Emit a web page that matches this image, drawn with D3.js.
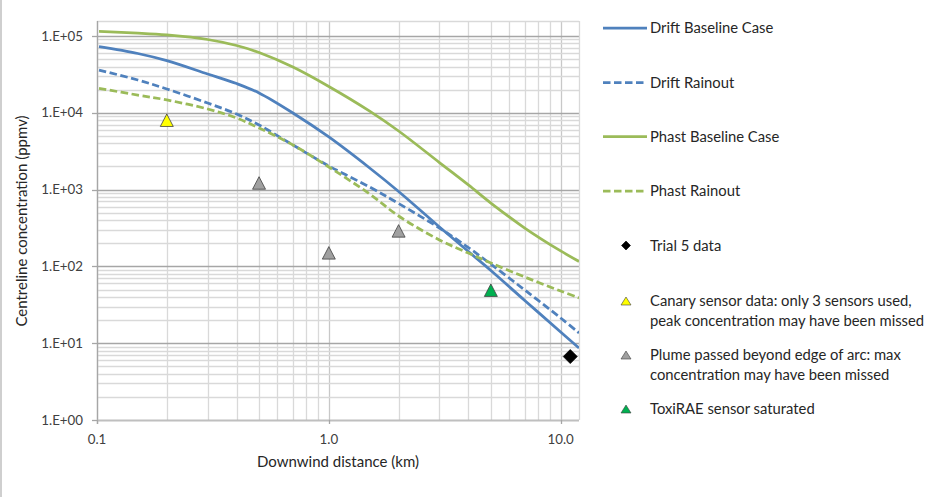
<!DOCTYPE html>
<html><head><meta charset="utf-8">
<script src="https://cdn.jsdelivr.net/npm/d3@7"></script>
<style>
html,body{margin:0;padding:0;background:#fff;}
svg{display:block;font-family:Lato,"Open Sans",sans-serif;}
</style></head>
<body><svg id="c" width="943" height="497"></svg>
<script>
// ---- data ----
const distances = [0.102, 0.15, 0.2, 0.3, 0.4, 0.5, 0.7, 1, 1.5, 2, 3, 4, 5, 7, 10, 12];
const driftBaseline = [72500, 59100, 47700, 32000, 24000, 18100, 9930, 4840, 1910, 944, 326, 156, 88.4, 36.0, 14.0, 8.66];
const driftRainout  = [36000, 26700, 20400, 13400, 9640, 6930, 3810, 2030, 1080, 659, 316, 176, 107, 49.3, 21.3, 13.6];
const phastBaseline = [115000, 109000, 103000, 90000, 75200, 60900, 39400, 22000, 10500, 5790, 2250, 1150, 668, 316, 159, 116];
const phastRainout  = [20800, 17000, 14700, 11200, 8550, 6340, 3810, 1970, 877, 453, 221, 149, 111, 72.8, 47.8, 38.8];
const seriesNames = ["Drift Baseline Case", "Drift Rainout", "Phast Baseline Case", "Phast Rainout"];
const trialX = [11], trialY = [6.7];
const canaryX = [0.2], canaryY = [8000];
const plumeX = [0.5, 1.0, 2.0], plumeY = [1220, 150, 290];
const toxiX = [5.0], toxiY = [49];
const markerNames = ["Trial 5 data", ["Canary sensor data: only 3 sensors used,", "peak concentration may have been missed"],
  ["Plume passed beyond edge of arc: max", "concentration may have been missed"], "ToxiRAE sensor saturated"];
const yTickLabels = ["1.E+00","1.E+01","1.E+02","1.E+03","1.E+04","1.E+05"];
const xTickValues = [0.1, 1, 10];
const xTickLabels = ["0.1","1.0","10.0"];

// ---- layout ----
const L = 97, R = 579, T = 21, B = 420;
const svg = d3.select("#c");
const x = d3.scaleLog().domain([0.1, 12]).range([L, R]);
const y = d3.scaleLog().domain([1, Math.pow(10, 5.195)]).range([B, T]);
const BLUE = "#4F81BD", GREEN = "#9BBB59";

svg.append("line").attr("x1",1).attr("x2",1).attr("y1",0).attr("y2",497).attr("stroke","#bfbfbf").attr("stroke-width",1.5);

const g = svg.append("g");
const xt = x.ticks().filter(v => v >= 0.1 && v <= 12);
const yt = y.ticks();
const isMajor = v => Math.abs(Math.log10(v) - Math.round(Math.log10(v))) < 1e-9;
g.selectAll(".vg").data(xt).enter().append("line")
  .attr("x1", d => Math.round(x(d)) + 0.5).attr("x2", d => Math.round(x(d)) + 0.5)
  .attr("y1", T).attr("y2", B)
  .attr("stroke", d => isMajor(d) ? "#c8c8c8" : "#d9d9d9").attr("stroke-width", 1.3);
g.selectAll(".hg").data(yt).enter().append("line")
  .attr("y1", d => Math.round(y(d)) + 0.5).attr("y2", d => Math.round(y(d)) + 0.5)
  .attr("x1", L).attr("x2", R)
  .attr("stroke", d => isMajor(d) ? "#a6a6a6" : "#d9d9d9").attr("stroke-width", 1.3);
g.append("line").attr("x1",L).attr("x2",R).attr("y1",T+0.5).attr("y2",T+0.5).attr("stroke","#d9d9d9").attr("stroke-width",1.3);
g.append("line").attr("x1",R+0.5).attr("x2",R+0.5).attr("y1",T).attr("y2",B).attr("stroke","#d9d9d9").attr("stroke-width",1.3);

g.append("line").attr("x1",L+0.5).attr("x2",L+0.5).attr("y1",T).attr("y2",B+4).attr("stroke","#a6a6a6").attr("stroke-width",1.3);
g.append("line").attr("x1",L).attr("x2",R).attr("y1",B+0.5).attr("y2",B+0.5).attr("stroke","#bfbfbf").attr("stroke-width",1.3);
const yMaj = yt.filter(isMajor);
g.selectAll(".yt").data(yMaj).enter().append("line")
  .attr("x1", L-5).attr("x2", L).attr("y1", d => Math.round(y(d))+0.5).attr("y2", d => Math.round(y(d))+0.5)
  .attr("stroke","#a6a6a6").attr("stroke-width",1.3);
g.selectAll(".yl").data(yMaj).enter().append("text")
  .attr("x", L-14).attr("y", d => y(d)).attr("dy","0.35em").attr("text-anchor","end")
  .attr("font-size", 13.3).attr("fill", "#404040")
  .text((d,i) => yTickLabels[i]);
g.selectAll(".xt").data(xTickValues).enter().append("line")
  .attr("x1", d => Math.round(x(d))+0.5).attr("x2", d => Math.round(x(d))+0.5).attr("y1", B).attr("y2", B+4)
  .attr("stroke","#a6a6a6").attr("stroke-width",1.3);
g.selectAll(".xl").data(xTickValues).enter().append("text")
  .attr("x", d => x(d)).attr("y", B+24).attr("text-anchor","middle")
  .attr("font-size", 13.3).attr("fill", "#404040")
  .text((d,i) => xTickLabels[i]);

svg.append("text").attr("x", 338).attr("y", 467).attr("text-anchor","middle")
  .attr("font-size", 15).attr("fill","#262626").text("Downwind distance (km)");
svg.append("text").attr("transform","translate(27,221) rotate(-90)").attr("text-anchor","middle")
  .attr("font-size", 15).attr("fill","#262626").text("Centreline concentration (ppmv)");

svg.append("clipPath").attr("id","clip").append("rect").attr("x",L).attr("y",T).attr("width",R-L).attr("height",B-T);
const line = d3.line().x(d => x(d[0])).y(d => y(d[1])).curve(d3.curveCatmullRom.alpha(0.5));
const series = [
  {vals: driftBaseline, color: BLUE, dash: null},
  {vals: driftRainout, color: BLUE, dash: "7.5,3.5"},
  {vals: phastBaseline, color: GREEN, dash: null},
  {vals: phastRainout, color: GREEN, dash: "7.5,3.5"}
];
const sg = svg.append("g").attr("clip-path","url(#clip)");
series.forEach(s => {
  sg.append("path").datum(distances.map((d,i) => [d, s.vals[i]]))
    .attr("d", line).attr("fill","none").attr("stroke", s.color)
    .attr("stroke-width", 2.75).attr("stroke-dasharray", s.dash);
});

function tri(w, h) { return `M0,${-h/2}L${w/2},${h/2}L${-w/2},${h/2}Z`; }
function dia(w, h) { return `M0,${-h/2}L${w/2},0L0,${h/2}L${-w/2},0Z`; }
const markerSets = [
  {xs: trialX, ys: trialY, path: dia(14,14), fill: "#000", stroke: "#000", lpath: dia(9,9)},
  {xs: canaryX, ys: canaryY, path: tri(13,12.5), fill: "#FFFF00", stroke: "#404040", lpath: tri(10,8)},
  {xs: plumeX, ys: plumeY, path: tri(13,12.5), fill: "#A0A0A0", stroke: "#404040", lpath: tri(10,8)},
  {xs: toxiX, ys: toxiY, path: tri(13,12.5), fill: "#00B050", stroke: "#404040", lpath: tri(10,8)}
];
markerSets.forEach(m => {
  svg.append("g").selectAll("path").data(m.xs.map((d,i) => [d, m.ys[i]])).enter().append("path")
    .attr("transform", d => `translate(${x(d[0])},${y(d[1])})`)
    .attr("d", m.path).attr("fill", m.fill).attr("stroke", m.stroke).attr("stroke-width", 0.8);
});

const lg = svg.append("g").attr("font-size", 14.8).attr("fill", "#262626");
const lineRows = [28, 82.5, 136.5, 191];
series.forEach((s, i) => {
  lg.append("line").attr("x1", 603).attr("x2", 647).attr("y1", lineRows[i]).attr("y2", lineRows[i])
    .attr("stroke", s.color).attr("stroke-width", 2.75).attr("stroke-dasharray", s.dash);
  lg.append("text").attr("x", 650).attr("y", lineRows[i]).attr("dy", "0.35em").text(seriesNames[i]);
});
const markRows = [245.5, 301, 355, 409];
markerSets.forEach((m, i) => {
  lg.append("path").attr("transform", `translate(626,${markRows[i]})`).attr("d", m.lpath)
    .attr("fill", m.fill).attr("stroke", m.stroke).attr("stroke-width", 0.6);
  const lines = Array.isArray(markerNames[i]) ? markerNames[i] : [markerNames[i]];
  lines.forEach((t, j) => {
    lg.append("text").attr("x", 650).attr("y", markRows[i] + j*19.5).attr("dy", "0.35em").text(t);
  });
});
</script></body></html>
